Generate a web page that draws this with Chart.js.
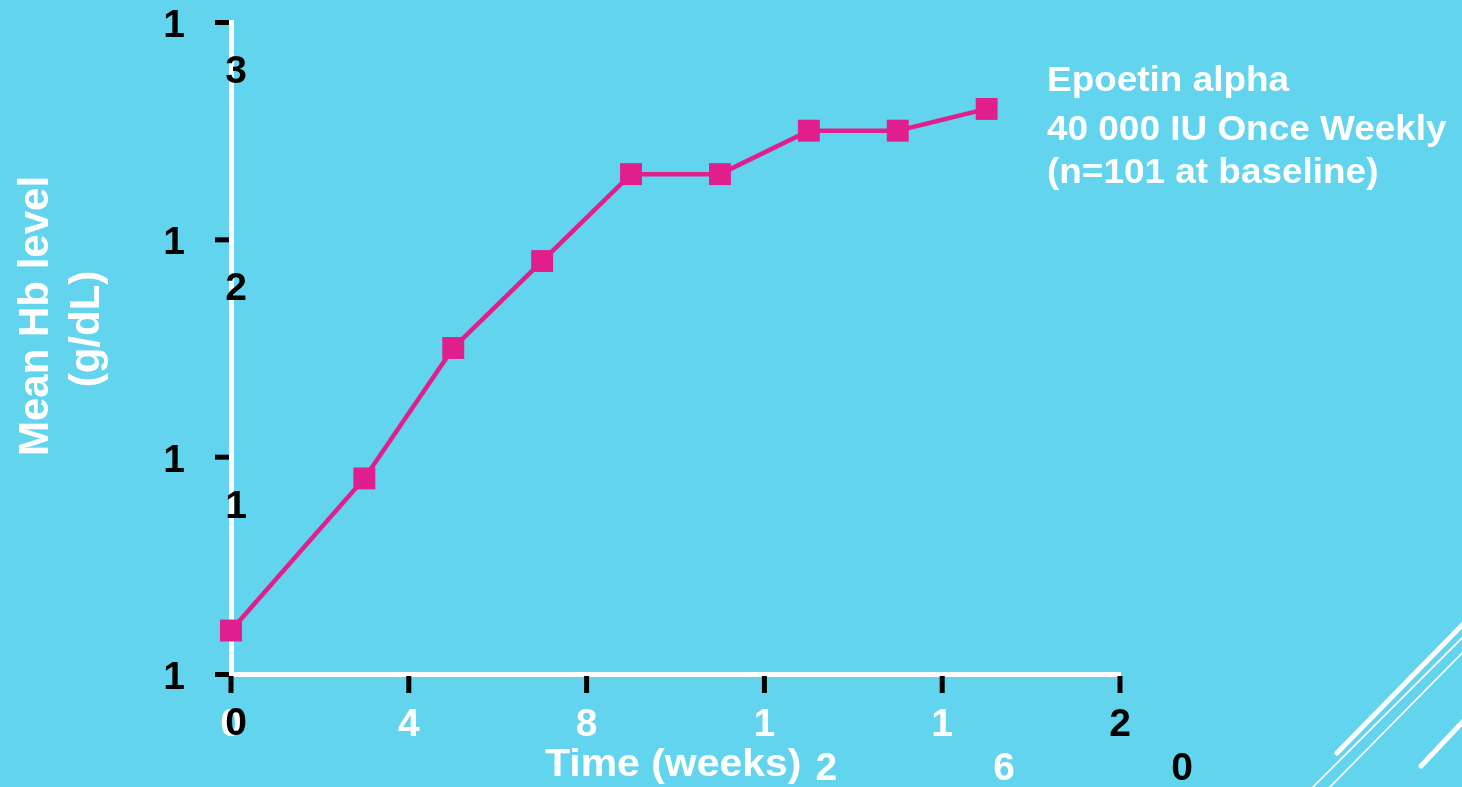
<!DOCTYPE html>
<html>
<head>
<meta charset="utf-8">
<title>Mean Hb level — Epoetin alpha</title>
<script src="https://cdn.jsdelivr.net/npm/chart.js@4/dist/chart.umd.min.js"></script>
<style>
  html, body { margin: 0; padding: 0; background: #63d4ee; overflow: hidden; }
  #wrap { width: 1462px; height: 787px; }
</style>
</head>
<body>
<div id="wrap"><canvas id="hb" width="1462" height="787"></canvas></div>
<script>
// Study weeks and mean haemoglobin (g/dL)
const weeks = [0, 3, 5, 7, 9, 11, 13, 15, 17];
const meanHb = [10.2, 10.9, 11.5, 11.9, 12.3, 12.3, 12.5, 12.5, 12.6];

// Axis tick values and their labels
const xTickValues = [0, 4, 8, 12, 16, 20];
const xTickLabels = ['0', '4', '8', '12', '16', '20'];
const yTickValues = [10, 11, 12, 13];
const yTickLabels = ['10', '11', '12', '13'];

const seriesLabel = ['Epoetin alpha', '40 000 IU Once Weekly', '(n=101 at baseline)'];
const yTitle = ['Mean Hb level', '(g/dL)'];
const xTitle = 'Time (weeks)';

const BG = '#63d4ee';
const MAGENTA = '#e01e8c';
const FONT = '"Liberation Sans", Arial, Helvetica, sans-serif';

// Draw text, optionally stretched horizontally
function stretchedText(ctx, text, x, y, sx, align) {
  ctx.save();
  ctx.translate(x, y);
  ctx.scale(sx, 1);
  ctx.textAlign = align || 'left';
  ctx.fillText(text, 0, 0);
  ctx.restore();
}

const decorPlugin = {
  id: 'decor',
  beforeDraw(chart) {
    const ctx = chart.ctx;
    ctx.save();
    ctx.fillStyle = BG;
    ctx.fillRect(0, 0, chart.width, chart.height);
    ctx.restore();
  },
  afterDraw(chart) {
    const ctx = chart.ctx;
    const xs = chart.scales.x;
    const ys = chart.scales.y;
    const area = chart.chartArea;
    ctx.save();

    // tick marks
    ctx.fillStyle = '#000';
    yTickValues.forEach(v => {
      const py = ys.getPixelForValue(v);
      ctx.fillRect(area.left - 16, py - 2, 14, 5);
    });
    xTickValues.forEach(v => {
      const px = xs.getPixelForValue(v);
      ctx.fillRect(px - 2.5, area.bottom + 2, 5, 17);
    });

    // tick labels: first digit at the tick, second digit wrapped below-right
    const dSize = 39;
    const capOff = dSize * 0.716 / 2;
    ctx.font = 'bold ' + dSize + 'px ' + FONT;
    ctx.textAlign = 'center';
    ctx.textBaseline = 'alphabetic';
    xTickValues.forEach((v, i) => {
      const px = xs.getPixelForValue(v);
      const lab = xTickLabels[i];
      ctx.fillStyle = (v === 20) ? '#000' : '#fff';
      const cy = 722;
      ctx.fillText(lab[0], px, cy + capOff);
      if (lab.length > 1) ctx.fillText(lab[1], px + 62, cy + 44 + capOff);
    });
    ctx.fillStyle = '#000';
    yTickValues.forEach((v, i) => {
      const py = ys.getPixelForValue(v) + 1;
      const lab = yTickLabels[i];
      const cx = area.left - 57;
      ctx.fillText(lab[0], cx, py + capOff);
      if (lab.length > 1) ctx.fillText(lab[1], cx + 62, py + 46 + capOff);
    });

    // axis titles
    ctx.fillStyle = '#fff';
    ctx.font = 'bold 39px ' + FONT;
    ctx.textBaseline = 'alphabetic';
    stretchedText(ctx, xTitle, 545, 776, 1.05, 'left');

    ctx.save();
    ctx.font = 'bold 42px ' + FONT;
    ctx.translate(48, 316);
    ctx.rotate(-Math.PI / 2);
    ctx.textAlign = 'center';
    ctx.fillText(yTitle[0], 0, 0);
    ctx.restore();
    ctx.save();
    ctx.font = 'bold 42px ' + FONT;
    ctx.translate(99, 329);
    ctx.rotate(-Math.PI / 2);
    ctx.textAlign = 'center';
    ctx.fillText(yTitle[1], 0, 0);
    ctx.restore();

    // series label
    ctx.font = 'bold 35px ' + FONT;
    const base = [91, 140, 183];
    seriesLabel.forEach((t, i) => stretchedText(ctx, t, 1047, base[i], 1.055, 'left'));

    // corner ornament
    ctx.strokeStyle = '#fff';
    ctx.lineCap = 'round';
    ctx.lineWidth = 5;
    ctx.beginPath(); ctx.moveTo(1337, 753); ctx.lineTo(1475, 612); ctx.stroke();
    ctx.beginPath(); ctx.moveTo(1421, 766); ctx.lineTo(1475, 709); ctx.stroke();
    ctx.lineWidth = 1.6;
    ctx.lineCap = 'butt';
    ctx.beginPath(); ctx.moveTo(1311, 789); ctx.lineTo(1475, 625); ctx.stroke();
    ctx.beginPath(); ctx.moveTo(1328, 789); ctx.lineTo(1475, 640); ctx.stroke();

    ctx.restore();
  }
};

new Chart(document.getElementById('hb'), {
  type: 'line',
  data: {
    datasets: [{
      label: seriesLabel.join(' '),
      data: weeks.map((w, i) => ({ x: w, y: meanHb[i] })),
      borderColor: MAGENTA,
      backgroundColor: MAGENTA,
      borderWidth: 4.5,
      tension: 0,
      pointStyle: 'rect',
      pointRadius: 15.5,
      pointHoverRadius: 15.5,
      pointBorderWidth: 0,
      pointBackgroundColor: MAGENTA,
      clip: false
    }]
  },
  options: {
    responsive: false,
    animation: false,
    devicePixelRatio: 1,
    layout: { autoPadding: false, padding: { left: 231, right: 342, top: 22, bottom: 113 } },
    plugins: { legend: { display: false }, tooltip: { enabled: false } },
    scales: {
      x: {
        type: 'linear', min: 0, max: 20,
        grid: { display: false, drawTicks: false, tickLength: 0 },
        ticks: { display: false },
        border: { display: true, color: '#fff', width: 5 }
      },
      y: {
        type: 'linear', min: 10, max: 13,
        grid: { display: false, drawTicks: false, tickLength: 0 },
        ticks: { display: false },
        border: { display: true, color: '#fff', width: 5 }
      }
    }
  },
  plugins: [decorPlugin]
});
</script>
</body>
</html>
